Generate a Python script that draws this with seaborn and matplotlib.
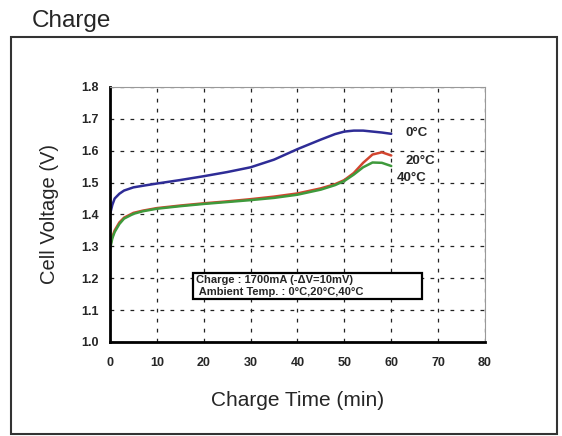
import pandas as pd
import matplotlib.pyplot as plt
import matplotlib.patches as patches
import seaborn as sns

# Charge curves (minutes, volts)
t_min = [0, 0.5, 1, 2, 3, 5, 7, 10, 15, 20, 25, 30, 35, 40, 45, 48, 50, 52, 54, 56, 58, 60]
v_0c = [1.40, 1.43, 1.45, 1.465, 1.475, 1.485, 1.49, 1.497, 1.508, 1.52, 1.533, 1.548,
        1.572, 1.605, 1.635, 1.652, 1.660, 1.663, 1.663, 1.660, 1.657, 1.653]
v_20c = [1.30, 1.33, 1.35, 1.375, 1.39, 1.405, 1.412, 1.42, 1.428, 1.435, 1.441, 1.448,
         1.456, 1.466, 1.482, 1.495, 1.508, 1.53, 1.562, 1.588, 1.595, 1.585]
v_40c = [1.29, 1.325, 1.345, 1.37, 1.387, 1.402, 1.41, 1.418, 1.426, 1.433, 1.439, 1.445,
         1.452, 1.462, 1.478, 1.492, 1.505, 1.525, 1.548, 1.563, 1.562, 1.552]
series = ["0°C", "20°C", "40°C"]
colors = {"0°C": "#2e2c96", "20°C": "#d2452f", "40°C": "#3f9a3c"}
label_pos = {"0°C": (65.5, 1.656), "20°C": (66.2, 1.567), "40°C": (64.4, 1.515)}

x_ticks = [0, 10, 20, 30, 40, 50, 60, 70, 80]
y_ticks = [1.0, 1.1, 1.2, 1.3, 1.4, 1.5, 1.6, 1.7, 1.8]

df = pd.concat([
    pd.DataFrame({"time": t_min, "volt": v, "temp": s})
    for s, v in zip(series, [v_0c, v_20c, v_40c])
])

sns.set_style("white")
plt.rcParams["font.family"] = ["Liberation Sans", "DejaVu Sans"]

fig = plt.figure(figsize=(5.62, 4.36), dpi=100)
ax = fig.add_axes([0.1957, 0.2156, 0.6673, 0.585])

sns.lineplot(data=df, x="time", y="volt", hue="temp", palette=colors,
             linewidth=1.8, legend=False, ax=ax)

for s in series:
    ax.text(*label_pos[s], s, fontsize=9.5, fontweight="bold", ha="center", va="center")

ax.set_xlim(0, 80)
ax.set_ylim(1.0, 1.8)
ax.set_xticks(x_ticks)
ax.set_yticks(y_ticks)
ax.set_xticklabels([str(v) for v in x_ticks], fontsize=9, fontweight="bold")
ax.set_yticklabels([f"{v:.1f}" for v in y_ticks], fontsize=9, fontweight="bold")
ax.tick_params(direction="in", length=4, width=1)
ax.tick_params(axis="x", pad=11)
ax.tick_params(axis="y", pad=8)
ax.grid(True, color="#222222", linestyle=(0, (3, 5)), linewidth=0.9)

for side in ["left", "bottom"]:
    ax.spines[side].set_linewidth(2)
    ax.spines[side].set_color("black")
for side in ["top", "right"]:
    ax.spines[side].set_linewidth(0.8)
    ax.spines[side].set_color("#999999")

ax.set_xlabel("Charge Time (min)", fontsize=15, labelpad=16)
ax.set_ylabel("Cell Voltage (V)", fontsize=14.5, labelpad=16)

# condition box
ax.add_patch(patches.Rectangle((17.7, 1.135), 48.8, 0.081, facecolor="white",
                               edgecolor="black", linewidth=1.6, zorder=3))
ax.text(18.4, 1.176,
        "Charge : 1700mA (-ΔV=10mV)\n Ambient Temp. : 0°C,20°C,40°C",
        fontsize=8, fontweight="bold", va="center", ha="left", linespacing=1.25,
        zorder=4)

# outer frame and heading
fig.patches.append(patches.Rectangle((11 / 562, 1 - 434 / 436), 546 / 562, 397 / 436,
                                     transform=fig.transFigure, fill=False,
                                     edgecolor="#333333", linewidth=1.5))
fig.text(32 / 562, 1 - 21 / 436, "Charge", fontsize=17.5, va="center", ha="left")

fig.savefig("out.png", dpi=100)
